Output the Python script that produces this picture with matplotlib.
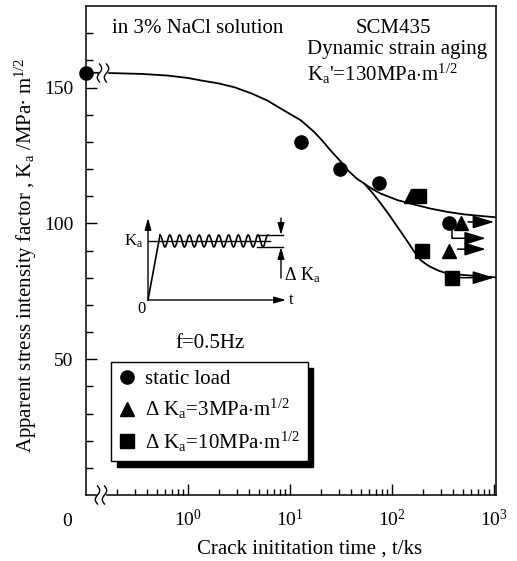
import numpy as np
import matplotlib
matplotlib.use("Agg")
import matplotlib.pyplot as plt
from matplotlib.ticker import FixedLocator, FixedFormatter, LogLocator, NullFormatter

plt.rcParams['font.family'] = 'serif'
plt.rcParams['font.serif'] = ['Liberation Serif', 'DejaVu Serif']
plt.rcParams['mathtext.fontset'] = 'custom'
plt.rcParams['mathtext.rm'] = 'Liberation Serif'
plt.rcParams['mathtext.it'] = 'Liberation Serif:italic'
plt.rcParams['mathtext.bf'] = 'Liberation Serif:bold'

W, H = 517, 561
T0 = 0.1  # t = 0 sits at the left end of the broken log axis

# static load (first point is t = 0)
static_t = [0, 12.8, 31, 74, 363]
static_K = [155.5, 130, 120, 115, 100]
# dKa = 3 MPa m^1/2
tri_t = [155, 478, 363]
tri_K = [110, 100, 90]
# dKa = 10 MPa m^1/2
sq_t = [183, 196, 388]
sq_K = [110, 90, 80]

# run-out arrows (not fractured)
run_start = [556, 390, 440, 450]
run_end = [1000, 830, 830, 1000]
run_K = [100.5, 94.5, 90.5, 80]

# fitted curves
upper_t = [0.1, 0.176, 0.35, 0.63, 1.0, 1.34, 2.0, 2.85, 4.2, 6.0, 8.5, 12.8, 17.4, 21, 25, 31,
           37, 45, 53.5, 65, 78, 114, 170, 240, 350, 510, 750, 1050]
upper_K = [155.5, 155.3, 155.0, 154.4, 153.5, 152.6, 151.5, 150.1, 147.8, 145.2, 141.8, 137.9,
           133.5, 130.2, 126.8, 123, 119.5, 116.5, 114.6, 112.5, 110.9, 108.5, 106.8, 105.4,
           104.2, 103.3, 102.7, 102.2]
lower_t = [53.5, 65, 78, 95, 114, 135, 154, 172, 192, 215, 240, 290, 352, 460, 630, 1050]
lower_K = [114.6, 111, 107.2, 102.8, 98.5, 94.5, 91.3, 88.6, 86.4, 85, 83.9, 82.5, 81.5, 81.1,
           80.7, 80.1]

yticks = [50, 100, 150]
xticks = [1, 10, 100, 1000]
xticklabels = ['$10^{0}$', '$10^{1}$', '$10^{2}$', '$10^{3}$']


def tpos(t):
    return [T0 if v == 0 else v for v in t]


fig = plt.figure(figsize=(W / 100, H / 100), dpi=100)
ax = fig.add_axes([86 / W, 1 - 495 / H, 410 / W, 489 / H])
ax.set_xscale('log')
ax.set_xlim(0.1, 1046)
ax.set_ylim(0, 180)

ax.plot(upper_t, upper_K, color='k', lw=1.3, zorder=2, solid_joinstyle='round')
ax.plot(lower_t, lower_K, color='k', lw=1.3, zorder=2, solid_joinstyle='round')

h1, = ax.plot(tpos(static_t), static_K, 'o', ms=9.5, color='k', clip_on=False, zorder=4,
              label='static load')
h2, = ax.plot(tri_t, tri_K, '^', ms=10.5, color='k', zorder=4,
              label=r'$\Delta$ K$_\mathrm{a}$=3MPa$\cdot$m$^{1/2}$')
h3, = ax.plot(sq_t, sq_K, 's', ms=9.5, color='k', zorder=4,
              label=r'$\Delta$ K$_\mathrm{a}$=10MPa$\cdot$m$^{1/2}$')

# run-outs
ax.plot([run_start[1], run_start[1]], [static_K[4], run_K[1]], color='k', lw=1.1)
for s, e, k in zip(run_start, run_end, run_K):
    ax.annotate('', xy=(e, k), xytext=(s, k),
                arrowprops=dict(arrowstyle='-|>,head_length=1.3,head_width=0.4',
                                mutation_scale=10, color='k', lw=1.1,
                                shrinkA=0, shrinkB=0))

ax.yaxis.set_major_locator(FixedLocator(yticks))
ax.yaxis.set_minor_locator(FixedLocator([v for v in range(10, 180, 10) if v not in yticks]))
ax.xaxis.set_major_locator(FixedLocator(xticks))
ax.xaxis.set_major_formatter(FixedFormatter(xticklabels))
ax.xaxis.set_minor_locator(LogLocator(base=10, subs=np.arange(2, 10)))
ax.xaxis.set_minor_formatter(NullFormatter())
ax.tick_params(which='both', direction='in', top=False, right=False, labelsize=14)
ax.tick_params(axis='y', which='major', length=8, pad=9, width=1)
ax.tick_params(axis='y', which='minor', length=5, width=1)
ax.tick_params(axis='x', which='major', length=8, pad=10, width=1)
ax.tick_params(axis='x', which='minor', length=4, width=1)
for sp in ax.spines.values():
    sp.set_linewidth(1.1)

ax.set_xlabel('Crack inititation time , t/ks', fontsize=15)
ax.xaxis.set_label_coords(0.545, -0.092)
ax.set_ylabel(r'Apparent stress intensity factor , K$_\mathrm{a}$ /MPa$\bullet$ m$^{1/2}$', fontsize=15)
ax.yaxis.set_label_coords(-0.115, 0.49)

leg = ax.legend(handles=[h1, h2, h3], loc='upper left', bbox_to_anchor=(0.061, 0.272),
                borderaxespad=0, fontsize=15, frameon=True, fancybox=False,
                edgecolor='k', framealpha=1, handlelength=0.8, handletextpad=0.5,
                borderpad=0.35, labelspacing=0.4,
                shadow={'color': 'k', 'alpha': 1, 'ox': 4, 'oy': -4})
leg.get_frame().set_linewidth(1)

# overlay in pixel coordinates for texts, schematic and axis breaks
ov = fig.add_axes([0, 0, 1, 1], zorder=5)
ov.set_xlim(0, W)
ov.set_ylim(H, 0)
ov.axis('off')
ov.patch.set_visible(False)

ov.text(112, 33, 'in 3% NaCl solution', fontsize=15, va='baseline')
ov.text(393, 33, 'SCM435', fontsize=15, va='baseline', ha='center')
ov.text(307, 54, 'Dynamic strain aging', fontsize=15, va='baseline')
ov.text(307, 81, r"K$_\mathrm{a}$'=130MPa$\cdot$m$^{1/2}$", fontsize=15, va='baseline')
ov.text(210, 348, 'f=0.5Hz', fontsize=15, va='baseline', ha='center')
ov.text(67, 522, '0', fontsize=14, va='center', ha='center')

# axis breaks
def draw_break(x, y):
    ov.add_patch(plt.Rectangle((x - 4, y - 9), 8, 18, color='white', zorder=1))
    u = np.linspace(0, 1, 40)
    for dx in (-3.5, 3.5):
        ov.plot(x + dx + 2.2 * np.sin(2 * np.pi * u), y - 9 + 18 * u, color='k', lw=1, zorder=2)


draw_break(101, 495)
draw_break(103, 73)

# schematic of the loading wave
ar = dict(arrowstyle='-|>,head_length=0.7,head_width=0.2', mutation_scale=10,
          color='k', lw=1, shrinkA=0, shrinkB=0)
ov.annotate('', xy=(148, 218), xytext=(148, 300), arrowprops=ar)
ov.annotate('', xy=(286, 300), xytext=(148, 300), arrowprops=ar)
ov.plot([148, 270], [241, 241], color='k', lw=1)
ov.plot([148, 160], [300, 235], color='k', lw=1.2)
xw = np.linspace(160, 268, 400)
ov.plot(xw, 241 - 6 * np.cos(2 * np.pi * (xw - 160) / 9.8), color='k', lw=1.2)
ov.plot([257, 283], [235, 235], color='k', lw=1)
ov.plot([257, 283], [247, 247], color='k', lw=1)
ov.annotate('', xy=(281, 235), xytext=(281, 218), arrowprops=ar)
ov.annotate('', xy=(281, 247), xytext=(281, 278), arrowprops=ar)
ov.text(143, 241, r'K$_\mathrm{a}$', fontsize=12, ha='right', va='center')
ov.text(142, 309, '0', fontsize=12, ha='center', va='center')
ov.text(289, 300, 't', fontsize=12, ha='left', va='center')
ov.text(284, 275, r'$\Delta$ K$_\mathrm{a}$', fontsize=13, ha='left', va='center')

fig.savefig('out.png', dpi=100)
